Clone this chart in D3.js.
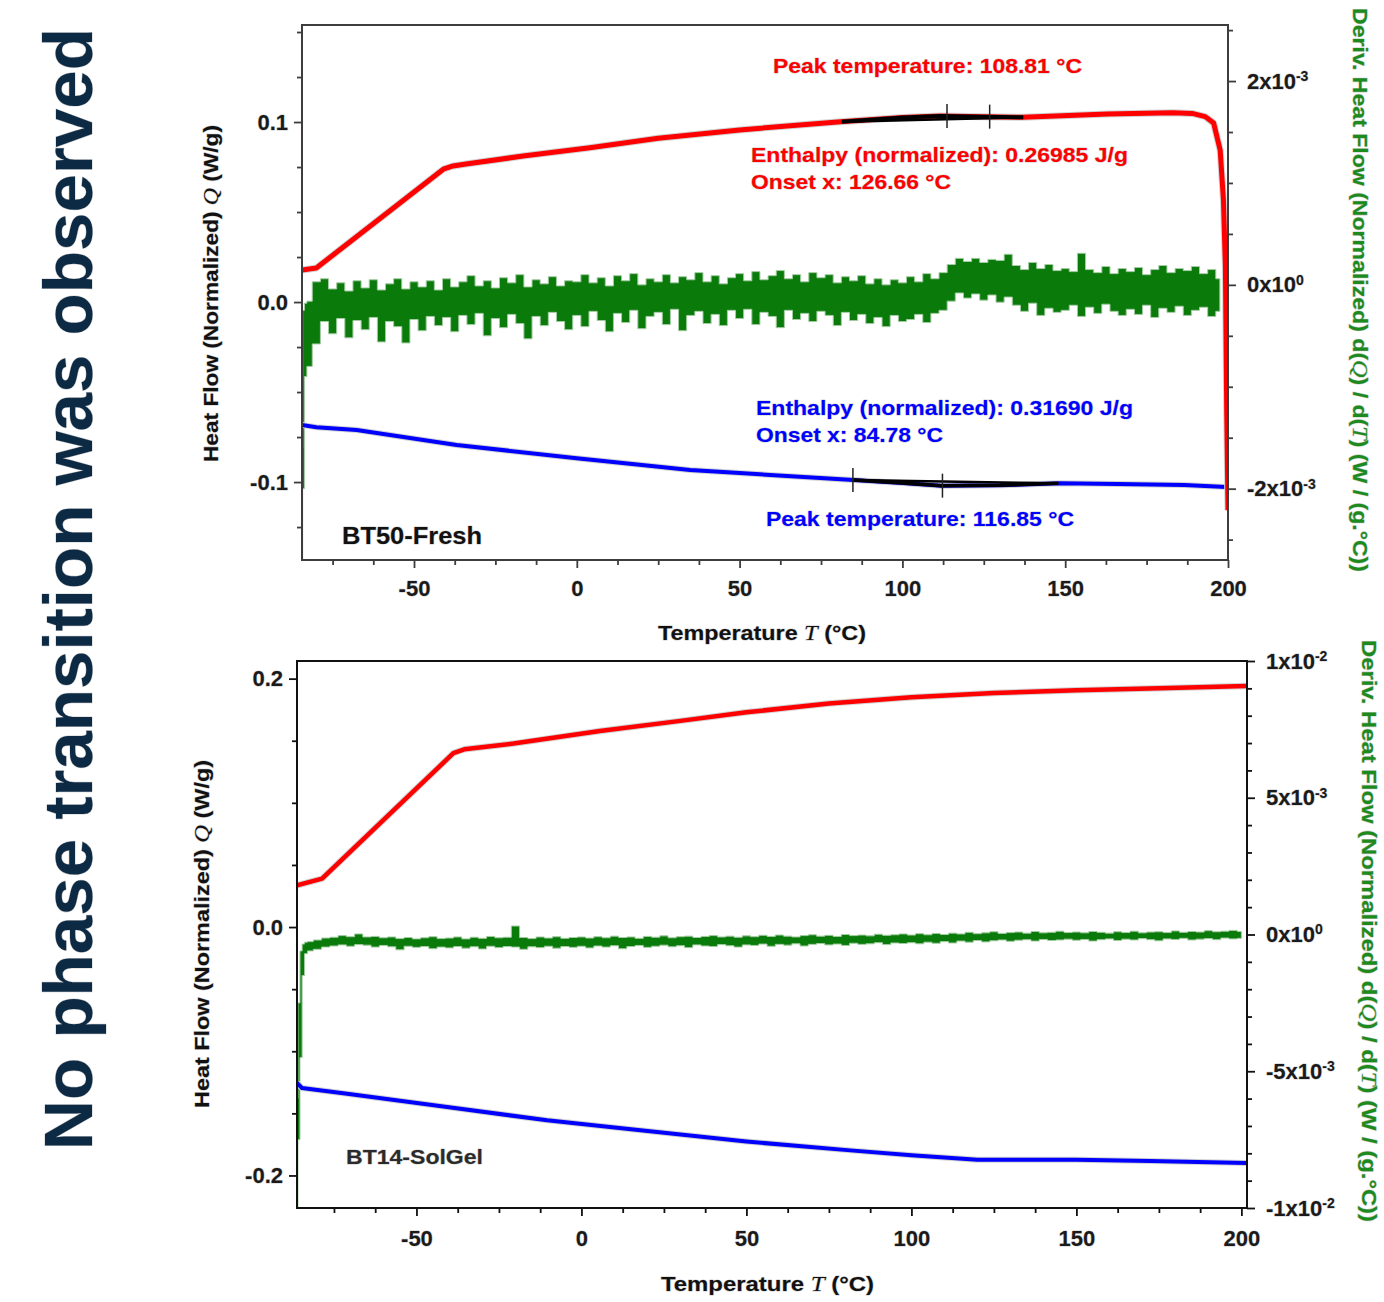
<!DOCTYPE html>
<html>
<head>
<meta charset="utf-8">
<title>DSC - no phase transition</title>
<script src="https://cdn.jsdelivr.net/npm/d3@7"></script>
<style>
    body { margin: 0; background: #fff; }
    svg { display: block; font-family: "Liberation Sans", Arial, sans-serif; }
    .tick text { font-size: 22px; font-weight: bold; fill: #1a1a1a; }
    .halo { paint-order: stroke; stroke: #cfcfcf; stroke-width: 1px; stroke-linejoin: round; }
</style>
</head>
<body>
<svg id="chart" width="1384" height="1302"></svg>
<script>
    const caption = 'No phase transition was observed';

    // ---- BT50-Fresh (top) : heat flow Q (W/g) vs T (°C)
    const freshRedT = [-84.4, -80, -41, -38, -34, -16.5, 4, 25, 50, 81, 100, 111.6, 125, 137, 163, 183, 189, 193, 195.6, 197.6, 198.6, 199.2, 199.6, 200];
    const freshRedQ = [0.0178, 0.0189, 0.0738, 0.0756, 0.0767, 0.0811, 0.0857, 0.091, 0.0956, 0.1002, 0.1025, 0.1033, 0.1030, 0.1026, 0.1044, 0.1052, 0.1048, 0.1030, 0.0994, 0.0844, 0.0567, 0.02, -0.06, -0.1156];
    const freshBlueT = [-84.4, -80, -67.6, -36.9, 0, 34.8, 50, 85, 100, 112, 130, 148.5, 166, 186.5, 199.5];
    const freshBlueQ = [-0.0683, -0.0695, -0.0711, -0.0794, -0.0868, -0.0933, -0.095, -0.0989, -0.1005, -0.1020, -0.1018, -0.1007, -0.1011, -0.1017, -0.1027];
    // integration ranges and markers (peak / onset)
    const freshRedRange = [81.4, 137.1], freshRedBase = [0.1002, 0.1026];
    const freshRedMarkT = [113.7, 126.8], freshRedMarkQ = [0.1033, 0.1030];
    const freshBlueRange = [84.8, 147.9], freshBlueBase = [-0.0989, -0.1007];
    const freshBlueMarkT = [84.8, 112.3], freshBlueMarkQ = [-0.0989, -0.1020];

    // derivative dQ/dT in units of 1e-4 W/(g.°C): upper / lower edge of the noise band
    const freshDqLeadT = [-84.4, -84.0, -83.3];
    const freshDqLeadHi = [-16, -2.5, -1.8];
    const freshDqLeadLo = [-27, -20, -9];
    const freshDqGrid = d3.range(-82.5, 198, 2.5);
    const freshDqHi = [-1.6, 0.3, 0.6, -0.4, 0.2, -0.6, 0.4, -0.3, 0.5, -0.5, 0.1, 0.6, -0.4, 0.3, -0.2, 0.4, -0.5,
        0.6, -0.2, 0.3, 0.9, -0.1, 0.4, -0.3, 0.7, 0.2, 1.0, -0.2, 0.5, 0.1, 0.8, -0.1, 0.4,
        0.3, 1.0, 0.2, 0.7, -0.1, 0.9, 0.4, 1.1, 0.0, 0.6, 0.3, 1.0, 0.2, 0.8, 0.5, 1.2, 0.3, 0.9, 0.1, 0.7,
        1.1, 0.4, 1.3, 0.5, 0.9, 1.4, 0.6, 1.0, 0.3, 1.2, 0.7,
        1.0, 0.2, 0.8, 0.4, 0.9, 0.1, 0.6, 0.0, 0.5, 0.2,
        0.8, 0.3, 1.1, 0.6, 1.2, 2.0, 2.6,
        2.3, 2.6, 2.2, 2.5, 2.4, 3.0,
        1.9, 1.5, 2.2, 1.6, 2.0, 1.4,
        1.6, 1.3, 3.1, 1.5, 1.2, 1.8, 1.1, 1.6,
        1.3, 1.7, 1.0, 1.5, 1.9, 1.2, 1.6, 1.4, 1.8, 1.1, 1.5, 0.6];
    const freshDqLo = [-8.0, -5.8, -3.6, -4.8, -3.3, -5.2, -3.5, -4.4, -3.2, -5.6, -3.6, -4.1, -5.7, -3.4, -4.5, -3.1, -4.0,
        -3.2, -4.6, -3.0, -3.9, -2.8, -5.0, -3.3, -4.2, -2.9, -3.8, -5.3, -3.1, -4.0, -2.7, -3.6, -4.4,
        -3.0, -4.1, -2.6, -3.5, -4.6, -2.8, -3.7, -2.5, -4.3, -3.1, -2.7, -3.9, -2.4, -4.5, -3.0, -2.6, -3.8, -2.9, -4.0, -2.5,
        -3.3, -2.4, -3.9, -2.7, -3.1, -4.2, -2.5, -3.4, -2.8, -3.6, -2.6,
        -3.0, -4.0, -2.7, -3.5, -2.9, -3.8, -3.2, -4.1, -3.0, -3.6,
        -3.4, -2.9, -3.7, -2.8, -2.5, -1.6, -0.8,
        -1.3, -0.9, -1.5, -1.0, -1.7, -1.2,
        -2.0, -2.6, -1.8, -3.0, -2.3, -2.7,
        -2.5, -2.0, -3.1, -2.2, -2.8, -1.9, -2.6, -3.0,
        -2.4, -2.9, -2.0, -3.2, -2.3, -2.7, -2.1, -3.0, -2.5, -2.2, -3.1, -2.6];

    const freshNotes = [
        'Peak temperature: 108.81 °C',
        'Enthalpy (normalized): 0.26985 J/g',
        'Onset x: 126.66 °C',
        'Enthalpy (normalized): 0.31690 J/g',
        'Onset x: 84.78 °C',
        'Peak temperature: 116.85 °C'
    ];
    const freshNoteColors = ['red', 'red', 'red', 'blue', 'blue', 'blue'];

    // ---- BT14-SolGel (bottom)
    const solgelRedT = [-86.2, -78.6, -38.8, -35.5, -20.6, 5.6, 30, 50, 75, 100, 125, 150, 175, 201.5];
    const solgelRedQ = [0.0336, 0.039, 0.1400, 0.1431, 0.1477, 0.1578, 0.1660, 0.1729, 0.1800, 0.1850, 0.1885, 0.1906, 0.1922, 0.1940];
    const solgelBlueT = [-86.2, -84.7, -71, -40.7, -10.4, 5.8, 50, 81.5, 100, 120, 150, 172.4, 201.5];
    const solgelBlueQ = [-0.1255, -0.1296, -0.1342, -0.1449, -0.1556, -0.1602, -0.1727, -0.1798, -0.1838, -0.1873, -0.1873, -0.1884, -0.1900];

    const solgelDqLeadT = [-86.2, -85.6, -85.0, -84.3, -83.5];
    const solgelDqLeadHi = [-60, -25, -6, -3.5, -2.8];
    const solgelDqLeadLo = [-100, -75, -45, -15, -7];
    const solgelDqGrid = d3.range(-82.5, 201, 2.5);
    const solgelDqHi = [-2.6, -2.0, -1.3, -1.0, -0.4, -0.8, 0.2, -0.9, -0.7, -1.2, -0.9, -1.5, -1.1, -1.6, -1.2, -0.8, -1.5,
        -1.3, -0.9, -1.6, -1.0, -1.4, -0.7, -1.2, -1.0, 3.1, -1.1, -1.5, -0.9, -1.3, -0.8, -1.4, -1.1, -0.9,
        -1.3, -0.8, -1.2, -0.6, -1.1, -0.9, -1.4, -0.7, -1.0, -0.5, -1.2, -0.8, -0.6, -1.1, -0.7, -0.4, -0.9, -0.6, -1.0,
        -0.5, -0.8, -0.3, -0.7, -0.2, -0.6, -0.9, -0.4, -0.1, -0.6, -0.3, -0.7, 0.0, -0.4, -0.2, -0.5, 0.1, -0.3, -0.1, 0.2,
        -0.2, 0.3, -0.1, 0.4, 0.0, 0.5, 0.2, 0.8, 0.3, 0.6, 1.0, 0.4, 0.7, 0.9, 0.5, 1.1, 0.6, 0.8, 1.2, 0.7,
        0.9, 0.6, 1.1, 0.8, 0.5, 1.0, 0.7, 1.2, 0.6, 0.9, 1.0, 0.7, 1.3, 0.8, 1.1, 0.9, 1.4, 1.0, 1.2, 1.5, 1.1];
    const solgelDqLo = [-6.0, -5.4, -4.6, -4.2, -3.8, -4.3, -3.7, -3.9, -4.6, -4.0, -4.5, -5.6, -4.3, -4.7, -4.4, -5.2, -4.6,
        -4.9, -4.4, -5.0, -4.5, -5.3, -4.3, -4.8, -4.4, -4.6, -5.4, -4.5, -4.8, -4.3, -5.0, -4.4, -4.7, -4.3,
        -4.9, -4.2, -4.6, -4.1, -5.2, -4.4, -4.0, -4.7, -4.3, -3.9, -4.5, -4.1, -4.8, -3.8, -4.2, -4.4, -3.7, -4.1, -4.6,
        -3.8, -4.0, -3.5, -4.3, -3.6, -3.9, -3.4, -4.2, -3.6, -3.3, -3.8, -3.5, -4.0, -3.2, -3.6, -3.4, -3.0, -3.7, -3.1, -3.3,
        -3.0, -3.4, -2.8, -3.2, -2.6, -3.1, -2.4, -2.8, -2.2, -2.7, -2.3, -2.0, -2.5, -2.1, -1.9, -2.4, -1.8, -2.2, -2.0, -1.7,
        -2.1, -1.8, -2.4, -1.9, -1.6, -2.2, -1.7, -2.0, -1.5, -1.9, -2.3, -1.6, -1.8, -1.4, -2.0, -1.7, -1.5, -1.9, -1.3, -1.6, -1.4];

    // ---- ticks
    const xTicks = [-50, 0, 50, 100, 150, 200];
    const xMinor = [-75, -62.5, -37.5, -25, -12.5, 12.5, 25, 37.5, 62.5, 75, 87.5, 112.5, 125, 137.5, 162.5, 175, 187.5];
    const freshYTicks = [-0.1, 0, 0.1];
    const freshYMinor = [-0.125, -0.075, -0.05, -0.025, 0.025, 0.05, 0.075, 0.125, 0.15];
    const freshY2Ticks = [-20, 0, 20];
    const freshY2Mant = ['-2', '0', '2'];
    const freshY2Exp = ['-3', '0', '-3'];
    const freshY2Minor = [-25, -15, -10, -5, 5, 10, 15, 25];
    const solgelYTicks = [-0.2, 0, 0.2];
    const solgelYMinor = [-0.15, -0.1, -0.05, 0.05, 0.1, 0.15];
    const solgelY2Ticks = [-100, -50, 0, 50, 100];
    const solgelY2Mant = ['-1', '-5', '0', '5', '1'];
    const solgelY2Exp = ['-2', '-3', '0', '-3', '-2'];
    const solgelY2Minor = [-90, -80, -70, -60, -40, -30, -20, -10, 10, 20, 30, 40, 60, 70, 80, 90];

    const xTitle = [['Temperature ', 0], ['T', 1], [' (°C)', 0]];
    const yTitle = [['Heat Flow (Normalized) ', 0], ['Q', 1], [' (W/g)', 0]];
    const y2Title = [['Deriv. Heat Flow (Normalized) d(', 0], ['Q', 1], [') / d(', 0], ['T', 1], [') (W / (g.°C))', 0]];

    // ---- layout
    const panels = [
        {
            id: 'fresh', name: 'BT50-Fresh',
            box: { l: 302, r: 1228, t: 25, b: 560 }, frame: '#3d3d3d',
            xDomain: [-84.4, 200], yDomain: [-0.1433, 0.1539], y2Domain: [-27, 25.5],
            red: [freshRedT, freshRedQ], blue: [freshBlueT, freshBlueQ], redW: 5, blueW: 4,
            dq: [freshDqLeadT.concat(freshDqGrid), freshDqLeadHi.concat(freshDqHi), freshDqLeadLo.concat(freshDqLo)],
            yTicks: freshYTicks, yMinor: freshYMinor,
            y2Ticks: freshY2Ticks, y2Minor: freshY2Minor, y2Mant: freshY2Mant, y2Exp: freshY2Exp,
            xPad: 12,
            xTitle: { x: 658, y: 640, len: 208 },
            yTitle: { x: 218, y: 462, len: 337 },
            y2Title: { x: 1353, y: 8, len: 564 },
            label: { x: 342, y: 544, size: 24, len: 140, color: '#111' }
        },
        {
            id: 'solgel', name: 'BT14-SolGel',
            box: { l: 297, r: 1247, t: 661, b: 1208 }, frame: '#111',
            xDomain: [-86.2, 201.7], yDomain: [-0.2262, 0.2142], y2Domain: [-100, 100],
            red: [solgelRedT, solgelRedQ], blue: [solgelBlueT, solgelBlueQ], redW: 4.5, blueW: 4,
            dq: [solgelDqLeadT.concat(solgelDqGrid), solgelDqLeadHi.concat(solgelDqHi), solgelDqLeadLo.concat(solgelDqLo)],
            yTicks: solgelYTicks, yMinor: solgelYMinor,
            y2Ticks: solgelY2Ticks, y2Minor: solgelY2Minor, y2Mant: solgelY2Mant, y2Exp: solgelY2Exp,
            xPad: 14,
            xTitle: { x: 661, y: 1291, len: 213 },
            yTitle: { x: 209, y: 1108, len: 348 },
            y2Title: { x: 1362, y: 640, len: 582 },
            label: { x: 346, y: 1164, size: 21, len: 137, color: '#2b2b2b' }
        }
    ];
    // annotation placement for the top panel (start x, baseline y, width)
    const freshNotePos = [[773, 73, 309], [751, 162, 377], [751, 189, 200], [756, 415, 377], [756, 442, 187], [766, 526, 308]];

    const svg = d3.select('#chart');

    svg.append('text')
        .attr('class', 'halo')
        .attr('transform', 'translate(92,1150) rotate(-90)')
        .attr('font-size', 68).attr('font-weight', 'bold').attr('fill', '#0d2a45')
        .attr('textLength', 1122).attr('lengthAdjust', 'spacingAndGlyphs')
        .text(caption);

    function richText(g, parts, pos, rotate, color) {
        const t = g.append('text')
            .attr('class', 'halo')
            .attr('transform', `translate(${pos.x},${pos.y}) rotate(${rotate})`)
            .attr('font-size', 20).attr('font-weight', 'bold').attr('fill', color)
            .attr('textLength', pos.len).attr('lengthAdjust', 'spacingAndGlyphs');
        parts.forEach(([s, it]) => {
            const sp = t.append('tspan').text(s);
            if (it) sp.attr('font-family', '"Liberation Serif", serif').attr('font-style', 'italic').attr('font-weight', 'normal').attr('font-size', 21);
        });
    }

    function drawPanel(p) {
        const { l, r, t, b } = p.box;
        const x = d3.scaleLinear().domain(p.xDomain).range([l, r]);
        const y = d3.scaleLinear().domain(p.yDomain).range([b, t]);
        const y2 = d3.scaleLinear().domain(p.y2Domain).range([b, t]);
        const g = svg.append('g').attr('class', 'panel-' + p.id);

        g.append('clipPath').attr('id', 'clip-' + p.id)
            .append('rect').attr('x', l).attr('y', t).attr('width', r - l).attr('height', b - t);
        const plot = g.append('g').attr('clip-path', `url(#clip-${p.id})`);

        // derivative noise band
        const dq = d3.zip(...p.dq).map(([tt, hi, lo]) => ({ tt, hi, lo }));
        plot.append('path').datum(dq)
            .attr('d', d3.area().curve(d3.curveStep).x(d => x(d.tt)).y0(d => y2(d.lo)).y1(d => y2(d.hi)))
            .attr('fill', '#0a7a0a').attr('stroke', '#a3cca3').attr('stroke-width', 1);

        const line = d3.line().x(d => x(d[0])).y(d => y(d[1]));
        const curve = (pts, color, w) => {
            plot.append('path').datum(pts).attr('d', line)
                .attr('fill', 'none').attr('stroke', '#d3d3d3').attr('stroke-width', w + 2).attr('stroke-linejoin', 'round');
            return plot.append('path').datum(pts).attr('d', line)
                .attr('fill', 'none').attr('stroke', color).attr('stroke-width', w).attr('stroke-linejoin', 'round');
        };
        const bluePts = d3.zip(...p.blue), redPts = d3.zip(...p.red);
        curve(bluePts, '#0000ff', p.blueW);
        curve(redPts, '#ff0000', p.redW);

        if (p.id === 'fresh') {
            // integration baselines drawn in black over the curves
            const overlay = (pts, range, base, markT, markQ, w, key) => {
                g.append('clipPath').attr('id', 'clip-' + key)
                    .append('rect').attr('x', x(range[0])).attr('y', t).attr('width', x(range[1]) - x(range[0])).attr('height', b - t);
                plot.append('path').datum(pts).attr('d', line)
                    .attr('clip-path', `url(#clip-${key})`)
                    .attr('fill', 'none').attr('stroke', '#000').attr('stroke-width', w);
                plot.append('line')
                    .attr('x1', x(range[0])).attr('x2', x(range[1]))
                    .attr('y1', y(base[0])).attr('y2', y(base[1]))
                    .attr('stroke', '#000').attr('stroke-width', 2.5);
                markT.forEach((mt, i) => {
                    plot.append('line')
                        .attr('x1', x(mt)).attr('x2', x(mt))
                        .attr('y1', y(markQ[i]) - 12).attr('y2', y(markQ[i]) + 12)
                        .attr('stroke', '#222').attr('stroke-width', 1.5);
                });
            };
            overlay(redPts, freshRedRange, freshRedBase, freshRedMarkT, freshRedMarkQ, 4, 'red-int');
            overlay(bluePts, freshBlueRange, freshBlueBase, freshBlueMarkT, freshBlueMarkQ, 3.5, 'blue-int');

            freshNotes.forEach((s, i) => {
                const [nx, ny, len] = freshNotePos[i];
                g.append('text').attr('class', 'halo')
                    .attr('x', nx).attr('y', ny)
                    .attr('font-size', 21).attr('font-weight', 'bold')
                    .attr('fill', freshNoteColors[i] === 'red' ? '#ff0000' : '#0000ff')
                    .attr('textLength', len).attr('lengthAdjust', 'spacingAndGlyphs')
                    .text(s);
            });
        }

        // axes
        const ax = g.append('g').attr('color', p.frame);
        const noDomain = s => s.select('.domain').remove();
        ax.append('g').attr('transform', `translate(0,${b})`)
            .call(d3.axisBottom(x).tickValues(xMinor).tickSize(5).tickFormat('')).call(noDomain);
        ax.append('g').attr('transform', `translate(0,${b})`)
            .call(d3.axisBottom(x).tickValues(xTicks).tickSize(8).tickPadding(p.xPad).tickFormat(d => String(d))).call(noDomain);
        ax.append('g').attr('transform', `translate(${l},0)`)
            .call(d3.axisLeft(y).tickValues(p.yMinor).tickSize(5).tickFormat('')).call(noDomain);
        ax.append('g').attr('transform', `translate(${l},0)`)
            .call(d3.axisLeft(y).tickValues(p.yTicks).tickSize(8).tickPadding(6).tickFormat(d => d.toFixed(1))).call(noDomain);
        ax.append('g').attr('transform', `translate(${r},0)`)
            .call(d3.axisRight(y2).tickValues(p.y2Minor).tickSize(5).tickFormat('')).call(noDomain);
        ax.append('g').attr('transform', `translate(${r},0)`)
            .call(d3.axisRight(y2).tickValues(p.y2Ticks).tickSize(8).tickPadding(11).tickFormat(''))
            .call(noDomain)
            .call(s => s.selectAll('.tick text').each(function (d, i) {
                const txt = d3.select(this);
                txt.append('tspan').text(p.y2Mant[i] + 'x10');
                txt.append('tspan').attr('dy', '-0.55em').attr('font-size', 14).text(p.y2Exp[i]);
            }));
        ax.selectAll('.tick line').attr('stroke-width', 1.8);
        ax.selectAll('.tick text').attr('class', 'halo');

        g.append('rect').attr('x', l).attr('y', t).attr('width', r - l).attr('height', b - t)
            .attr('fill', 'none').attr('stroke', p.frame).attr('stroke-width', 2);

        // titles
        richText(g, xTitle, p.xTitle, 0, '#111');
        richText(g, yTitle, p.yTitle, -90, '#111');
        richText(g, y2Title, p.y2Title, 90, '#1c8a1c');

        g.append('text').attr('class', 'halo')
            .attr('x', p.label.x).attr('y', p.label.y)
            .attr('font-size', p.label.size).attr('font-weight', 'bold').attr('fill', p.label.color)
            .attr('textLength', p.label.len).attr('lengthAdjust', 'spacingAndGlyphs')
            .text(p.name);
    }

    panels.forEach(drawPanel);
</script>
</body>
</html>
